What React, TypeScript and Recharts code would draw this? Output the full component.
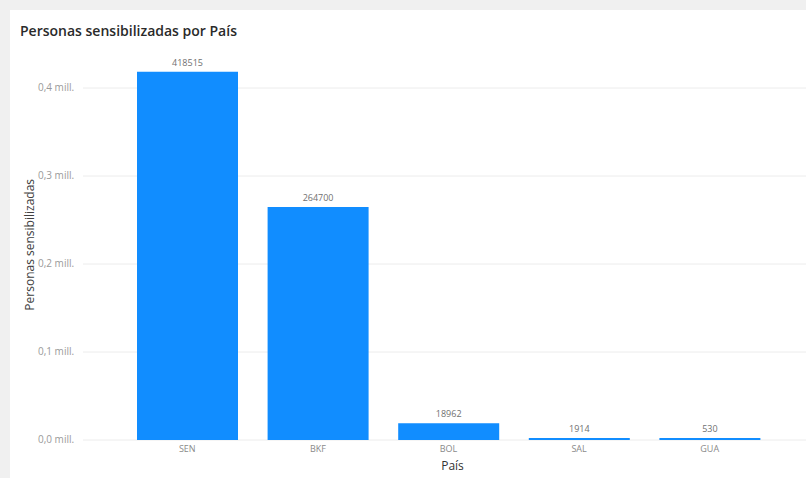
import React from 'react';
import {
  BarChart,
  Bar,
  XAxis,
  YAxis,
  CartesianGrid,
  LabelList
} from 'recharts';

// Datos
const paises = ['SEN', 'BKF', 'BOL', 'SAL', 'GUA'];
const personas = [418515, 264700, 18962, 1914, 530];
const yTicks = [0, 100000, 200000, 300000, 400000];

const data = paises.map((pais, i) => ({ pais, value: personas[i] }));

const FONT = '"Open Sans", "Noto Sans", sans-serif';

const formatMill = (v: number) => (v / 1000000).toFixed(1).replace('.', ',') + ' mill.';

const YTick = ({ y, payload }: any) => (
  <text x={28} y={y} dy={3} textAnchor="start" fontSize={10} fill="#9a9a9a" fontFamily={FONT}>
    {formatMill(payload.value)}
  </text>
);

export default function App() {
  return (
    <div
      style={{
        position: 'fixed',
        left: 0,
        top: 0,
        width: 806,
        height: 478,
        background: '#f0f0f0',
        overflow: 'hidden'
      }}
    >
      <div
        style={{
          position: 'absolute',
          left: 10,
          top: 10,
          width: 796,
          height: 468,
          background: '#ffffff'
        }}
      >
        <div
          style={{
            position: 'absolute',
            left: 10,
            top: 11,
            fontFamily: FONT,
            fontSize: 14,
            fontWeight: 600,
            color: '#2a2a2a',
            whiteSpace: 'nowrap'
          }}
        >
          Personas sensibilizadas por País
        </div>
        <BarChart
          width={796}
          height={468}
          data={data}
          margin={{ top: 51.6, right: 0, bottom: 0, left: 0 }}
          barCategoryGap={15}
        >
          <CartesianGrid vertical={false} stroke="#ececec" horizontalValues={yTicks} />
          <XAxis
            dataKey="pais"
            height={38}
            padding={{ left: 39, right: 31 }}
            axisLine={false}
            tickLine={false}
            tickSize={6}
            tickMargin={0}
            tick={{ fontSize: 9, fill: '#8a8a8a', fontFamily: FONT }}
            label={{
              value: 'País',
              position: 'insideBottom',
              offset: 8,
              dx: 8,
              fontSize: 12,
              fill: '#333333',
              fontFamily: FONT
            }}
          />
          <YAxis
            width={73}
            domain={[0, 430000]}
            ticks={yTicks}
            allowDataOverflow
            axisLine={false}
            tickLine={false}
            tick={<YTick />}
            label={{
              value: 'Personas sensibilizadas',
              angle: -90,
              position: 'center',
              dx: -16.5,
              dy: -6,
              fontSize: 12,
              fill: '#404040',
              fontFamily: FONT
            }}
          />
          <Bar dataKey="value" fill="#118DFF" minPointSize={2} isAnimationActive={false}>
            <LabelList
              dataKey="value"
              position="top"
              offset={6}
              fontSize={9}
              fill="#707070"
              fontFamily={FONT}
            />
          </Bar>
        </BarChart>
      </div>
    </div>
  );
}
